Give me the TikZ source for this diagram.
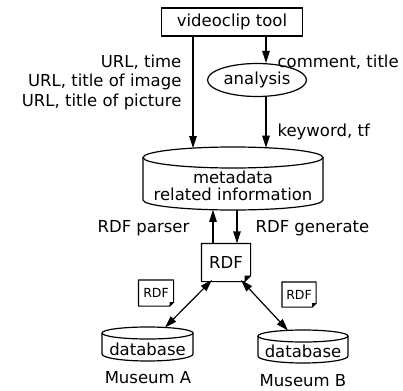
\documentclass[tikz,border=0pt]{standalone}
\usepackage{fontspec}
\setmainfont{DejaVu Sans}
\usetikzlibrary{arrows.meta,shapes.geometric,calc}
\begin{document}
\begin{tikzpicture}[x=1pt,y=1pt,line width=1.2pt,
  font=\fontsize{16.5}{17}\selectfont,
  >={Triangle[length=12pt,width=7.5pt]},
  lbl/.style={inner sep=0pt},
  docbox/.style={inner sep=0pt},
  conn/.style={->},
  bconn/.style={<->}]
\useasboundingbox (0,0) rectangle (403,-390);

% videoclip tool
\node[draw,minimum width=141pt,minimum height=28pt,inner sep=0pt] (vtool) at (232,-22) {videoclip tool};
% analysis
\node[draw,ellipse,minimum width=99pt,minimum height=33pt,inner sep=0pt] (an) at (257,-80) {analysis};

% metadata cylinder
\draw (143,-157.5) -- (143,-200) arc[start angle=180,end angle=360,x radius=90,y radius=10] -- (323,-157.5);
\draw (233,-157.5) ellipse[x radius=90,y radius=10.5];
\node[align=center,inner sep=0pt] (meta) at (233,-186) {metadata\\related information};
\coordinate (m1) at (193,-148.1);
\coordinate (m2) at (266,-147.7);
\coordinate (p1) at (213,-209.8);
\coordinate (p2) at (237,-210);

% RDF documents
\node[docbox,minimum width=48pt,minimum height=37pt] (rdf) at (226,-262.5) {RDF};
\node[docbox,minimum width=34pt,minimum height=25pt,font=\fontsize{12.5}{13}\selectfont] (s1) at (156,-293) {RDF};
\node[docbox,minimum width=33pt,minimum height=24pt,font=\fontsize{12.5}{13}\selectfont] (s2) at (299,-294.5) {RDF};
\foreach \n/\c in {rdf/6,s1/4,s2/4}{
  \draw[line join=round] (\n.north west) -- (\n.north east) -- ([yshift=\c pt]\n.south east)
     -- ([xshift=-\c pt]\n.south east) -- (\n.south west) -- cycle;
  \fill ([yshift=\c pt]\n.south east) -- ([xshift=-\c pt,yshift=\c pt]\n.south east) -- ([xshift=-\c pt]\n.south east) -- cycle;
}

% databases
\draw (102,-333) -- (102,-354) arc[start angle=180,end angle=360,x radius=45.5,y radius=7] -- (193,-333);
\draw (147.5,-333) ellipse[x radius=45.5,y radius=6];
\node[lbl] (dbA) at (147.5,-349) {database};
\draw (258,-336) -- (258,-356) arc[start angle=180,end angle=360,x radius=45,y radius=7] -- (348,-336);
\draw (303,-336) ellipse[x radius=45,y radius=6];
\node[lbl] (dbB) at (303,-351) {database};
\coordinate (a1) at (165,-327.5);
\coordinate (b1) at (288,-330.5);
\coordinate (r1) at (212,-280);
\coordinate (r2) at (241,-280);
\node[lbl] (musA) at (148,-378) {Museum A};
\node[lbl] (musB) at (303,-381) {Museum B};

% connectors
\draw[conn] (vtool.south -| m1) -- (m1);
\draw[conn] (vtool.south -| m2) -- (an.north -| m2);
\draw[conn] (an.south -| m2) -- (m2);
\draw[conn] (rdf.north -| p1) -- (p1);
\draw[conn] (p2) -- (rdf.north -| p2);
\draw[bconn] (r1) -- (a1);
\draw[bconn] (r2) -- (b1);

% labels
\node[lbl,anchor=east] (l1) at (182,-62) {URL, time};
\node[lbl,anchor=east] (l2) at (182,-82) {URL, title of image};
\node[lbl,anchor=east] (l3) at (182,-102) {URL, title of picture};
\node[lbl,anchor=west] (l4) at (277,-62) {comment, title};
\node[lbl,anchor=west] (l5) at (277,-132) {keyword, tf};
\node[lbl,anchor=east] (l6) at (190,-228) {RDF parser};
\node[lbl,anchor=west] (l7) at (255,-228) {RDF generate};
\end{tikzpicture}
\end{document}
